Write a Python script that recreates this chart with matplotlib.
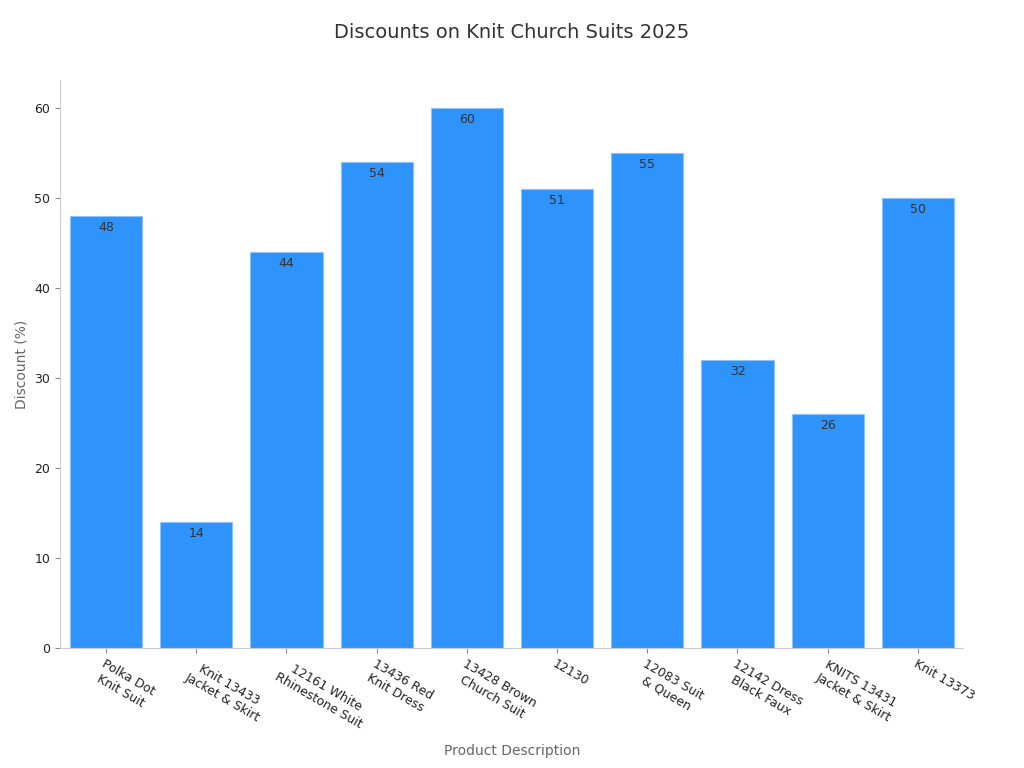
import matplotlib
matplotlib.use("Agg")
import matplotlib.pyplot as plt

categories = ["Polka Dot\nKnit Suit", "Knit 13433\nJacket & Skirt", "12161 White\nRhinestone Suit",
              "13436 Red\nKnit Dress", "13428 Brown\nChurch Suit", "12130", "12083 Suit\n& Queen",
              "12142 Dress\nBlack Faux", "KNITS 13431\nJacket & Skirt", "Knit 13373"]
discounts = [48, 14, 44, 54, 60, 51, 55, 32, 26, 50]

fig = plt.figure(figsize=(10.24, 7.68), dpi=100)
ax = fig.add_axes([60/1024, 1-648/768, 903/1024, 568/768])
x = list(range(len(categories)))
ax.bar(x, discounts, width=0.8, color="#2E93FA", edgecolor="#8cc3fb", linewidth=0.8)
for xi, v in zip(x, discounts):
    ax.text(xi, v - 0.6, f"{v}", ha="center", va="top", fontsize=9, color="#333333")
ax.set_xlim(-0.51, 9.5)
ax.set_ylim(0, 63.1)
ax.set_xticks(x)
ax.set_xticklabels(categories, rotation=-30, ha="left", rotation_mode="anchor",
                   fontsize=9, color="#222222", multialignment="center")
ax.set_yticks(range(0, 61, 10))
ax.tick_params(axis="y", labelsize=9, colors="#222222")
ax.tick_params(color="#888888")
for s in ["top", "right"]:
    ax.spines[s].set_visible(False)
for s in ["left", "bottom"]:
    ax.spines[s].set_color("#cccccc")
ax.set_ylabel("Discount (%)", fontsize=10, color="#666666")
fig.text(512/1024, 1-751/768, "Product Description", ha="center", va="center", fontsize=10, color="#666666")
fig.suptitle("Discounts on Knit Church Suits 2025", y=1-33/768, va="center", fontsize=14, color="#333333")
fig.savefig("out.png", dpi=100)
